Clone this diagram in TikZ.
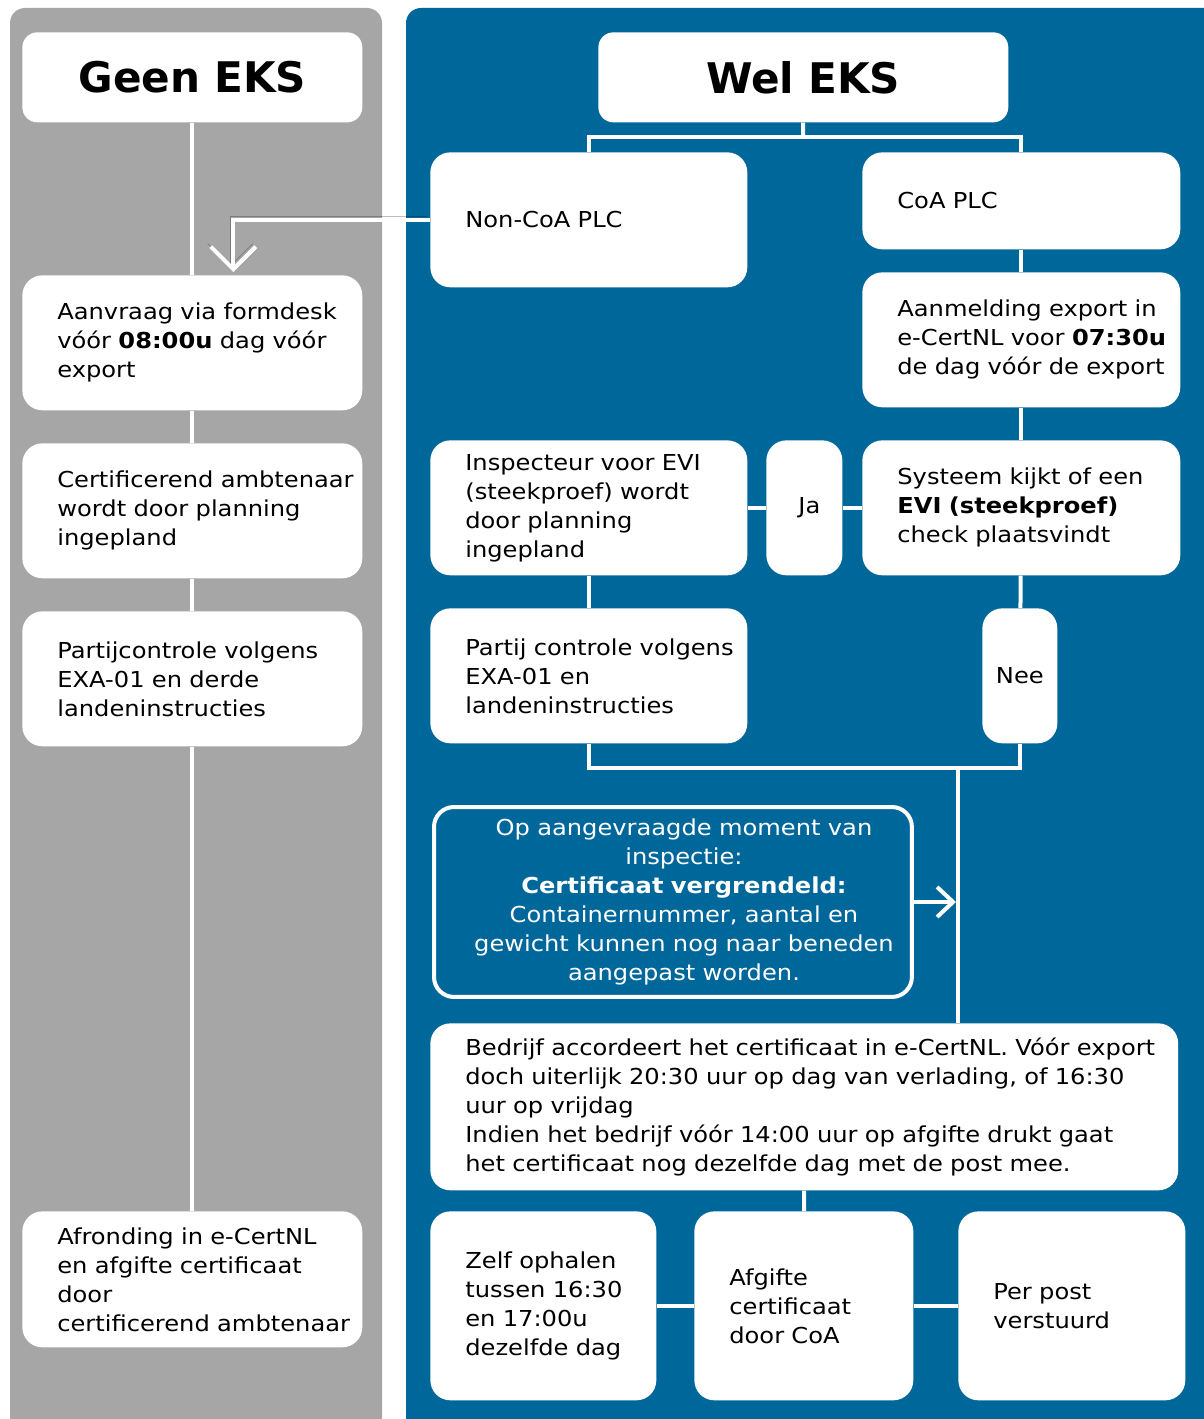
\documentclass[tikz,border=0pt]{standalone}
\usepackage{fontspec}
\setmainfont{DejaVu Sans}
\newfontfamily\bodyface{DejaVu Sans}[FakeStretch=1.1]
\usetikzlibrary{arrows.meta}
\definecolor{eksblue}{RGB}{0,103,155}
\definecolor{eksgrey}{RGB}{166,166,166}
\newcommand{\bodyfont}{\bodyface\fontsize{12.5}{16.5}\selectfont}

\begin{document}
\begin{tikzpicture}[x=0.02cm,y=-0.02cm,
        >={Straight Barb[length=0.45cm,width=0.9cm]},
        plain/.style={fill=white,rounded corners=0.4cm,anchor=north west,inner xsep=0.1cm,inner ysep=0pt,font=\bodyfont},
        box/.style={plain,align=left,execute at begin node={\leftskip=0.6cm}},
        tag/.style={plain,align=center},
        title/.style={plain,rounded corners=0.3cm,align=center,font=\fontsize{24}{28}\selectfont\bfseries},
        lock/.style={draw=white,line width=0.08cm,fill=eksblue,text=white,rounded corners=0.4cm,
          anchor=north west,align=center,font=\bodyfont,inner sep=0pt,
          execute at begin node={\leftskip=0.44cm plus 1fill\rightskip=0pt plus 1fill}},
        link/.style={draw=white,line width=0.08cm}]
        \useasboundingbox (0,0) rectangle (1203,1419);
        \fill[white] (0,0) rectangle (1203,1419);
        \fill[eksgrey,rounded corners=0.3cm] (10,8) rectangle (382,1450);
        \fill[eksblue,rounded corners=0.3cm] (406,8) rectangle (1230,1450);

        \node[title,text width=6.6cm,minimum height=1.8cm] (geen) at (22,32) {Geen EKS};
        \node[box,text width=6.6cm,minimum height=2.7cm] (aanvraag) at (22,275)
          {Aanvraag via formdesk\\vóór \textbf{08:00u} dag vóór\\export};
        \node[box,text width=6.6cm,minimum height=2.7cm] (certif) at (22,443)
          {Certificerend ambtenaar\\wordt door planning\\ingepland};
        \node[box,text width=6.6cm,minimum height=2.7cm] (partij) at (22,611)
          {Partijcontrole volgens\\EXA-01 en derde\\landeninstructies};
        \node[box,text width=6.6cm,minimum height=2.72cm] (afronding) at (22,1211)
          {Afronding in e-CertNL\\en afgifte certificaat\\door\\certificerend ambtenaar};

        \node[title,text width=8cm,minimum height=1.8cm] (wel) at (598,32) {Wel EKS};
        \node[box,text width=6.14cm,minimum height=2.7cm] (noncoa) at (430,152) {Non-CoA PLC};
        \node[box,text width=6.16cm,minimum height=1.94cm] (coa) at (862,152) {CoA PLC};
        \node[box,text width=6.16cm,minimum height=2.7cm] (aanmelding) at (862,272)
          {Aanmelding export in\\e-CertNL voor \textbf{07:30u}\\de dag vóór de export};
        \node[box,text width=6.16cm,minimum height=2.7cm] (systeem) at (862,440)
          {Systeem kijkt of een\\\textbf{EVI (steekproef)}\\check plaatsvindt};
        \node[tag,text width=1.32cm,minimum height=2.7cm] (ja) at (766,440) {\hspace*{0.2cm}Ja};
        \node[box,text width=6.14cm,minimum height=2.7cm] (inspecteur) at (430,440)
          {Inspecteur voor EVI\\(steekproef) wordt\\door planning\\ingepland};
        \node[box,text width=6.14cm,minimum height=2.7cm] (partijcoa) at (430,608)
          {Partij controle volgens\\EXA-01 en\\landeninstructies};
        \node[tag,text width=1.3cm,minimum height=2.7cm] (nee) at (982,608) {Nee};
        \node[lock,text width=9.56cm,minimum height=3.8cm] (vergrendeld) at (432,805)
          {Op aangevraagde moment van\\inspectie:\\\textbf{Certificaat vergrendeld:}\\Containernummer, aantal en\\gewicht kunnen nog naar beneden\\aangepast worden.};
        \node[box,text width=14.76cm,minimum height=3.34cm] (bedrijf) at (430,1023)
          {Bedrijf accordeert het certificaat in e-CertNL. Vóór export\\doch uiterlijk 20:30 uur op dag van verlading, of 16:30\\uur op vrijdag\\Indien het bedrijf vóór 14:00 uur op afgifte drukt gaat\\het certificaat nog dezelfde dag met de post mee.};
        \node[box,text width=4.32cm,minimum height=3.78cm] (zelf) at (430,1211)
          {Zelf ophalen\\tussen 16:30\\en 17:00u\\dezelfde dag};
        \node[box,text width=4.18cm,minimum height=3.78cm] (afgifte) at (694,1211)
          {Afgifte\\certificaat\\door CoA};
        \node[box,text width=4.34cm,minimum height=3.78cm] (perpost) at (958,1211)
          {Per post\\verstuurd};

        \coordinate (split) at (803,137);
        \coordinate (merge) at (958,768);

        \draw[link] (geen) -- (aanvraag);
        \draw[link] (aanvraag) -- (certif);
        \draw[link] (certif) -- (partij);
        \draw[link] (partij) -- (afronding);
        \draw[link,->,shorten >=0.06cm,preaction={draw=black,opacity=0.25,transform canvas={shift={(-0.06cm,0.06cm)}}}]
          (noncoa.west) -| ([xshift=0.82cm]aanvraag.north);

        \draw[link] (wel) -- (split);
        \draw[link] (noncoa) |- (split) -| (coa);
        \draw[link] (coa) -- (aanmelding);
        \draw[link] (aanmelding) -- (systeem);
        \draw[link] (inspecteur) -- (ja);
        \draw[link] (ja) -- (systeem);
        \draw[link] (systeem) -- (nee);
        \draw[link] (inspecteur) -- (partijcoa);
        \draw[link] (partijcoa) |- (merge);
        \draw[link] (nee) |- (merge);
        \draw[link] (merge) -- (merge |- bedrijf.north);
        \draw[link,-{Straight Barb[length=0.32cm,width=0.6cm]},shorten >=0.04cm] (vergrendeld) -- (vergrendeld -| merge);
        \draw[link] (bedrijf) -- (afgifte);
        \draw[link] (zelf) -- (afgifte);
        \draw[link] (afgifte) -- (perpost);
\end{tikzpicture}
\end{document}
